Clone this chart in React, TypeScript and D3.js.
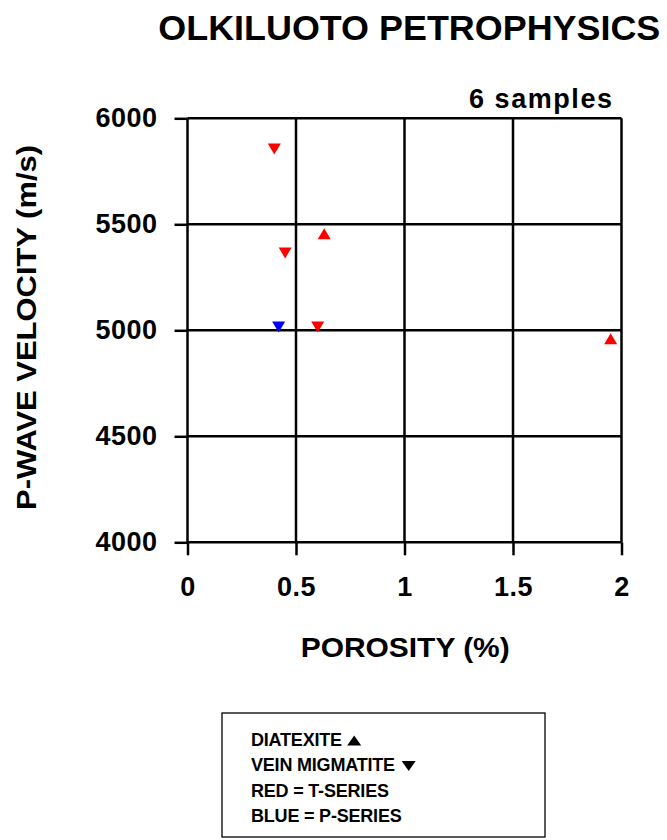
import React, { useEffect, useRef } from 'react';
import * as d3 from 'd3';

// sample values
const porosity = [0.40, 0.63, 0.45, 0.42, 0.60, 1.95];
const velocity = [5855, 5455, 5365, 5015, 5015, 4960];
const rockType = ['vein', 'diatexite', 'vein', 'vein', 'vein', 'diatexite'];
const seriesName = ['T', 'T', 'T', 'P', 'T', 'T'];

const xTicks = [0, 0.5, 1, 1.5, 2];
const yTicks = [4000, 4500, 5000, 5500, 6000];
const legendLines = ['DIATEXITE', 'VEIN MIGMATITE', 'RED = T-SERIES', 'BLUE = P-SERIES'];
const legendSymbols = ['up', 'down', '', ''];

const seriesColor: Record<string, string> = { T: '#ff0000', P: '#0000ff' };
const FONT = "'Liberation Sans', Arial, Helvetica, sans-serif";

function triangle(dir: string, w: number, h: number) {
  const s = dir === 'up' ? 1 : -1;
  return `M0,${-s * h / 2}L${w / 2},${s * h / 2}L${-w / 2},${s * h / 2}Z`;
}

export default function App() {
  const svgRef = useRef<SVGSVGElement>(null);

  useEffect(() => {
    if (!svgRef.current) return;
    const svg = d3.select(svgRef.current);
    svg.selectAll('*').remove();

    const width = 667;
    const height = 840;
    const margin = { top: 118.3, right: 45.5, bottom: 297.7, left: 187.5 };

    const x = d3.scaleLinear().domain([0, 2]).range([margin.left, width - margin.right]);
    const y = d3.scaleLinear().domain([4000, 6000]).range([height - margin.bottom, margin.top]);

    // title
    svg.append('text')
      .attr('x', 158.3)
      .attr('y', 39.5)
      .attr('textLength', 502)
      .attr('lengthAdjust', 'spacingAndGlyphs')
      .attr('font-size', 35)
      .text('OLKILUOTO PETROPHYSICS');

    svg.append('text')
      .attr('x', 469)
      .attr('y', 107.5)
      .attr('textLength', 143)
      .attr('lengthAdjust', 'spacing')
      .attr('font-size', 27)
      .text('6 samples');

    // grid
    const grid = svg.append('g').attr('stroke', '#000').attr('stroke-width', 2.5);
    xTicks.forEach(t => {
      grid.append('line')
        .attr('x1', x(t)).attr('x2', x(t))
        .attr('y1', y(4000)).attr('y2', y(6000));
    });
    yTicks.forEach(t => {
      grid.append('line')
        .attr('x1', x(0)).attr('x2', x(2))
        .attr('y1', y(t)).attr('y2', y(t));
    });

    // axes
    const yAxis = svg.append('g')
      .attr('transform', `translate(${margin.left},0)`)
      .call(d3.axisLeft(y).tickValues(yTicks).tickSize(13).tickSizeOuter(0).tickPadding(17).tickFormat(d3.format('d')));
    const xAxis = svg.append('g')
      .attr('transform', `translate(0,${height - margin.bottom})`)
      .call(d3.axisBottom(x).tickValues(xTicks).tickSize(13).tickSizeOuter(0).tickPadding(22).tickFormat(d => String(d)));

    [yAxis, xAxis].forEach(a => {
      a.select('.domain').remove();
      a.selectAll('.tick line').attr('stroke', '#000').attr('stroke-width', 2.5);
      a.selectAll('.tick text')
        .attr('fill', '#000')
        .attr('font-family', FONT)
        .attr('font-weight', 'bold')
        .attr('font-size', 27)
        .attr('letter-spacing', 0.5);
    });

    // axis titles
    svg.append('text')
      .attr('x', 300.7)
      .attr('y', 656.7)
      .attr('textLength', 209)
      .attr('lengthAdjust', 'spacingAndGlyphs')
      .attr('font-size', 28)
      .text('POROSITY (%)');

    svg.append('text')
      .attr('transform', 'translate(35.5,510) rotate(-90)')
      .attr('textLength', 365)
      .attr('lengthAdjust', 'spacingAndGlyphs')
      .attr('font-size', 28)
      .text('P-WAVE VELOCITY (m/s)');

    // points
    svg.append('g')
      .selectAll('path')
      .data(porosity.map((p, i) => ({ p, v: velocity[i], type: rockType[i], s: seriesName[i] })))
      .join('path')
      .attr('transform', d => `translate(${x(d.p)},${y(d.v)})`)
      .attr('d', d => triangle(d.type === 'diatexite' ? 'up' : 'down', 13, 11))
      .attr('fill', d => seriesColor[d.s]);

    // legend
    svg.append('rect')
      .attr('x', 222)
      .attr('y', 713)
      .attr('width', 323)
      .attr('height', 124)
      .attr('fill', 'none')
      .attr('stroke', '#000')
      .attr('stroke-width', 1.3);

    const leg = svg.append('g');
    legendLines.forEach((label, i) => {
      const ty = 745.5 + i * 25.5;
      const t = leg.append('text')
        .attr('x', 251)
        .attr('y', ty)
        .attr('font-size', 18)
        .attr('letter-spacing', -0.2)
        .text(label);
      if (legendSymbols[i]) {
        const len = (t.node() as SVGTextElement).getComputedTextLength();
        leg.append('path')
          .attr('transform', `translate(${251 + len + 12},${ty - 5})`)
          .attr('d', triangle(legendSymbols[i], 14, 10))
          .attr('fill', '#000');
      }
    });

    svg.selectAll('text')
      .attr('font-family', FONT)
      .attr('font-weight', 'bold')
      .attr('fill', '#000');
  }, []);

  return (
    <svg
      ref={svgRef}
      width={667}
      height={840}
      viewBox="0 0 667 840"
      style={{ position: 'absolute', left: 0, top: 0, background: '#fff' }}
    />
  );
}
